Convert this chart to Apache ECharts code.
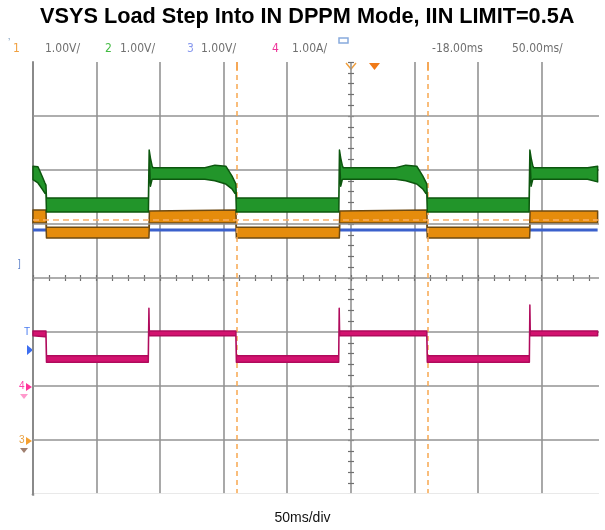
<!DOCTYPE html>
<html><head><meta charset="utf-8">
<script src="https://cdn.jsdelivr.net/npm/echarts@6/dist/echarts.min.js"></script>
<style>html,body{margin:0;padding:0;background:#fff}#c{width:605px;height:530px}</style>
</head><body><div id="c"></div>
<script>
// time in ms (50 ms/div), levels in screen divisions (1 V/div or 1 A/div), 0 = bottom graticule line
const greenT   = [0,3.9,7.1,9.4,10.2,10.6,90.8,91.4,92.4,93.6,94.3,135.2,143.1,151.7,156.5,158.8,159.6,160.0,240.6,241.1,242.1,243.3,244.1,285.4,293.3,301.9,306.6,309.0,309.8,310.2,390.3,390.9,391.9,393.1,393.9,436.3,444.2];
const greenTop = [6.07,6.06,5.89,5.76,5.72,5.48,5.48,6.37,6.22,6.09,6.04,6.04,6.09,6.07,5.89,5.78,5.74,5.48,5.48,6.37,6.22,6.09,6.04,6.04,6.09,6.07,5.89,5.78,5.74,5.48,5.48,6.37,6.22,6.09,6.04,6.04,6.07];
const greenBot = [5.82,5.76,5.65,5.57,5.56,5.22,5.22,6.30,5.70,5.82,5.83,5.83,5.80,5.74,5.65,5.57,5.56,5.22,5.22,6.30,5.70,5.82,5.83,5.83,5.80,5.74,5.65,5.57,5.56,5.22,5.22,6.30,5.70,5.82,5.83,5.83,5.78];

const orangeT   = [0,10.2,10.6,91.2,91.6,159.6,160.0,241.0,241.4,309.8,310.2,390.7,391.1,444.2];
const orangeTop = [5.26,5.26,4.94,4.94,5.24,5.26,4.94,4.94,5.24,5.26,4.94,4.94,5.24,5.24];
const orangeBot = [5.02,5.02,4.74,4.74,5.02,5.02,4.74,4.74,5.02,5.02,4.74,4.74,5.02,5.02];

const blueT = [0,444.2];
const blueV = [4.89,4.89];

const pinkT   = [0,9.4,10.2,10.6,90.7,91.2,91.5,91.9,159.6,160.0,240.5,240.9,241.2,241.6,309.8,310.2,390.5,390.9,391.2,391.6,444.2];
const pinkTop = [3.02,3.02,3.02,2.56,2.56,3.44,3.02,3.02,3.02,2.56,2.56,3.44,3.02,3.02,3.02,2.56,2.56,3.50,3.02,3.02,3.02];
const pinkBot = [2.93,2.91,2.93,2.44,2.44,3.44,2.93,2.93,2.93,2.44,2.44,3.44,2.93,2.93,2.93,2.44,2.44,3.50,2.93,2.93,2.93];

const cursorT = [160.0,310.5];
const cursorLevel = 5.07;
const hGridLevels = [1,2,3,4,5,6,7];

const titleText = 'VSYS Load Step Into IN DPPM Mode, IIN LIMIT=0.5A';
const xLabel = '50ms/div';
const chanLabels = [['1','#f0a040'],['1.00V/','#707070'],['2','#44bb44'],['1.00V/','#707070'],['3','#8899ee'],['1.00V/','#707070'],['4','#ee3399'],['1.00A/','#707070'],['-18.00ms','#707070'],['50.00ms/','#707070']];
const chanLabelX = [13,45,105,120,187,201,272,292,432,512];

const pair = (t,v)=>t.map((x,i)=>[x,v[i]]);

const chart = echarts.init(document.getElementById('c'), null, {renderer:'canvas'});
const gridCol = '#939393';
const narrow = '"Liberation Sans Narrow","DejaVu Sans Condensed",Arial,sans-serif';

function band(name, t, top, bot, fill, edge, z){
  return {
    name:name, type:'custom', data:[[t[0],top[0]]], z:z, silent:true, animation:false,
    renderItem:function(params, api){
      const pts = [];
      for (let i=0;i<t.length;i++) pts.push(api.coord([t[i],top[i]]));
      for (let i=t.length-1;i>=0;i--) pts.push(api.coord([t[i],bot[i]]));
      return {type:'polygon', shape:{points:pts}, style:{fill:fill, stroke:edge, lineWidth:1.5, lineJoin:'round'}};
    }
  };
}

const graphics = [];
graphics.push({type:'rect',shape:{x:599,y:50,width:10,height:460},style:{fill:'#fff'},z:200});
graphics.push({type:'rect',shape:{x:34.2,y:493.2,width:570,height:4},style:{fill:'#fff'},z:200});
chanLabels.forEach((l,i)=>graphics.push({type:'text',left:chanLabelX[i],top:43,style:{text:l[0],fill:l[1],font:'12px '+narrow}}));
graphics.push({type:'text',left:8,top:38,style:{text:'\u2019',fill:'#7799bb',font:'10px sans-serif'}});
graphics.push({type:'rect',shape:{x:339,y:38,width:9,height:5},style:{fill:'none',stroke:'#88aadd',lineWidth:1.5}});
graphics.push({type:'text',left:40,top:6,style:{text:titleText,fill:'#000',font:'bold 21.7px "Liberation Sans",Arial,sans-serif'}});
graphics.push({type:'text',left:'center',top:511,style:{text:xLabel,fill:'#111',font:'14px "Liberation Sans",Arial,sans-serif'}});
// top markers
graphics.push({type:'polygon',shape:{points:[[369,63],[380,63],[374.5,70]]},style:{fill:'#f07a18'}});
graphics.push({type:'polyline',shape:{points:[[346,63],[351,69],[356,63]]},style:{stroke:'#f0a040',lineWidth:1.5,fill:'none'}});
graphics.push({type:'line',shape:{x1:237,y1:62,x2:237,y2:70},style:{stroke:'#f08a20',lineWidth:1.5}});
graphics.push({type:'line',shape:{x1:428,y1:62,x2:428,y2:70},style:{stroke:'#f08a20',lineWidth:1.5}});
// left markers
graphics.push({type:'text',left:18,top:259,style:{text:']',fill:'#6688cc',font:'10px sans-serif'}});
graphics.push({type:'text',left:24,top:327,style:{text:'T',fill:'#4a7cf0',font:'10px "Liberation Sans",sans-serif'}});
graphics.push({type:'polygon',shape:{points:[[27,345],[27,355],[33,350]]},style:{fill:'#3d6ef0'}});
graphics.push({type:'text',left:19,top:381,style:{text:'4',fill:'#ff44aa',font:'10px "Liberation Sans",sans-serif'}});
graphics.push({type:'polygon',shape:{points:[[26,383],[26,391],[32,387]]},style:{fill:'#ff3399'}});
graphics.push({type:'polygon',shape:{points:[[20,394],[28,394],[24,399]]},style:{fill:'#ff99cc'}});
graphics.push({type:'text',left:19,top:435,style:{text:'3',fill:'#e8a040',font:'10px "Liberation Sans",sans-serif'}});
graphics.push({type:'polygon',shape:{points:[[26,437],[26,445],[32,441]]},style:{fill:'#f5a030'}});
graphics.push({type:'polygon',shape:{points:[[20,448],[28,448],[24,453]]},style:{fill:'#a08070'}});

const xBase = {type:'value',min:0,max:450,interval:50,axisLabel:{show:false},axisTick:{show:false},splitLine:{show:false},axisLine:{show:false}};
const yBase = {type:'value',min:0,max:8,interval:1,axisLabel:{show:false},axisTick:{show:false},splitLine:{show:false},axisLine:{show:false}};
const tickStyle = {color:'#6f6f6f',width:1.2};

const gridMarks = hGridLevels.map(v=>({yAxis:v,lineStyle:{color:gridCol,type:'solid',width:1.6}}));

const option = {
  animation:false,
  backgroundColor:'#fff',
  grid:{left:33,right:0,top:62,bottom:36,containLabel:false},
  xAxis:[
    Object.assign({},xBase,{splitLine:{show:true,lineStyle:{color:gridCol,width:1.6}}}),
    Object.assign({},xBase,{position:'top',axisLine:{show:true,lineStyle:{color:'#8a8a8a',width:2.6}}}),
    Object.assign({},xBase,{position:'bottom',offset:-216,axisTick:{show:true,length:3,inside:false,lineStyle:tickStyle},minorTick:{show:true,splitNumber:4,length:3,lineStyle:tickStyle}}),
    Object.assign({},xBase,{position:'bottom',offset:-216,axisTick:{show:true,length:3,inside:true,lineStyle:tickStyle},minorTick:{show:true,splitNumber:4,length:3,lineStyle:tickStyle}})
  ],
  yAxis:[
    Object.assign({},yBase,{axisLine:{show:true,lineStyle:{color:'#8a8a8a',width:2}}}),
    Object.assign({},yBase,{position:'left',offset:-318,axisTick:{show:true,length:3,inside:false,lineStyle:tickStyle},minorTick:{show:true,splitNumber:5,length:3,lineStyle:tickStyle}}),
    Object.assign({},yBase,{position:'left',offset:-318,axisTick:{show:true,length:3,inside:true,lineStyle:tickStyle},minorTick:{show:true,splitNumber:5,length:3,lineStyle:tickStyle}})
  ],
  graphic:graphics,
  series:[
    {name:'grid',type:'line',data:[],z:0,silent:true,
     markLine:{silent:true,symbol:'none',label:{show:false},animation:false,data:gridMarks}},
    {name:'ch3',type:'line',data:pair(blueT,blueV),showSymbol:false,symbol:'none',lineStyle:{color:'#3a60cc',width:3},z:1,silent:true,
     markLine:{silent:true,symbol:'none',label:{show:false},animation:false,
       data:[{xAxis:cursorT[0],lineStyle:{color:'#f8a850',type:[5,4],width:1.5}},
             {xAxis:cursorT[1],lineStyle:{color:'#f8a850',type:[5,4],width:1.5}},
             {yAxis:cursorLevel,lineStyle:{color:'#f8b068',type:[6,4],width:1.6}}]}},
    band('ch1',orangeT,orangeTop,orangeBot,'#e58c0c','#6e4a12',4),
    band('ch2',greenT,greenTop,greenBot,'#22952a','#0c560e',6),
    band('ch4',pinkT,pinkTop,pinkBot,'#d3126f','#b00a5c',8)
  ]
};
chart.setOption(option);
</script></body></html>
